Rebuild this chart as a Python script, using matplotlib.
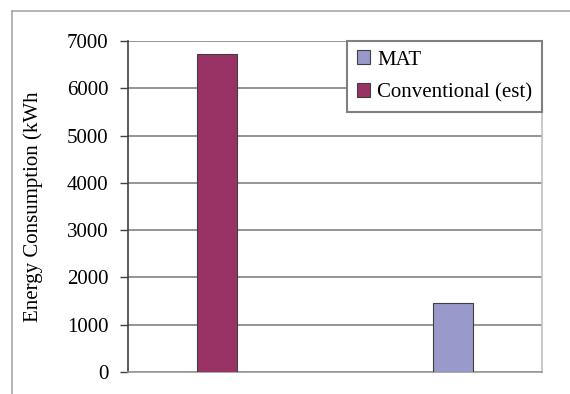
import matplotlib.pyplot as plt
from matplotlib.lines import Line2D
from matplotlib.patches import Patch

# Energy use per system (kWh)
series = ['MAT', 'Conventional (est)']
values = [1450, 6720]
colors = ['#9999cc', '#993366']
positions = [1.568, 0.432]

yticks = [0, 1000, 2000, 3000, 4000, 5000, 6000, 7000]

plt.rcParams['font.family'] = ['Liberation Serif', 'DejaVu Serif']

fig = plt.figure(figsize=(5.7, 3.94), dpi=100)
ax = fig.add_axes([128 / 570, 1 - 372 / 394, 414 / 570, 331 / 394])

for name, val, col, pos in zip(series, values, colors, positions):
    ax.bar(pos, val, width=0.193, color=col, edgecolor='#404040',
           linewidth=0.8, zorder=3)

ax.set_xlim(0, 2)
ax.set_ylim(0, 7000)
ax.set_xticks([])
ax.set_yticks(yticks)
ax.set_yticklabels([str(t) for t in yticks], fontsize=15)
ax.tick_params(axis='y', direction='out', length=6, width=1, color='#404040', pad=8)
ax.yaxis.grid(True, color='#8c8c8c', linewidth=1.3, zorder=0)

ax.spines['left'].set_color('#404040')
ax.spines['bottom'].set_color('#9a9a9a')
ax.spines['right'].set_color('#c0c0c0')
ax.spines['top'].set_visible(False)
for s in ['left', 'bottom', 'right']:
    ax.spines[s].set_linewidth(1.2)

ax.set_ylabel('Energy Consumption (kWh', fontsize=15)
ax.yaxis.set_label_coords(-95 / 414, 0.5 + (372 - 207 - 165.5) / 331)
ax.yaxis.label.set_verticalalignment('center')

handles = [Patch(facecolor=c, edgecolor='#404040', linewidth=0.8) for c in colors]
leg = ax.legend(handles, series, loc='upper right', bbox_to_anchor=(1.0, 1.0),
                fontsize=15, fancybox=False, framealpha=1, borderaxespad=0,
                handlelength=0.65, handleheight=0.65, handletextpad=0.35,
                labelspacing=0.65, borderpad=0.45)
leg.get_frame().set_edgecolor('#808080')
leg.get_frame().set_linewidth(1.5)
leg.set_zorder(5)

# Outer chart border (top and left edges)
fig.add_artist(Line2D([12 / 570, 1], [1 - 11 / 394, 1 - 11 / 394],
                      color='#a8a8a8', linewidth=1.2))
fig.add_artist(Line2D([12 / 570, 12 / 570], [0, 1 - 11 / 394],
                      color='#a8a8a8', linewidth=1.2))

fig.savefig('out.png', dpi=100)
